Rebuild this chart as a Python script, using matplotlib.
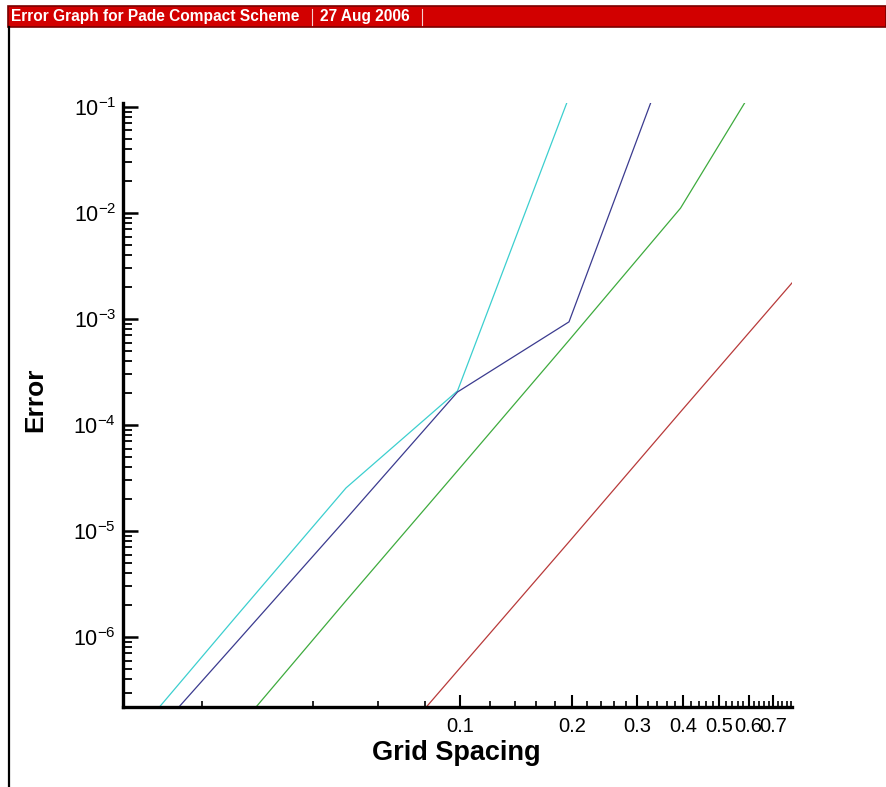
import numpy as np
import matplotlib
matplotlib.use("Agg")
import matplotlib.pyplot as plt
from matplotlib.patches import Rectangle
from matplotlib.lines import Line2D
from matplotlib.ticker import FixedLocator, NullFormatter

plt.rcParams["font.family"] = ["Liberation Sans", "DejaVu Sans"]
plt.rcParams["mathtext.fontset"] = "custom"
plt.rcParams["mathtext.rm"] = "Liberation Sans"
plt.rcParams["mathtext.it"] = "Liberation Sans:italic"
plt.rcParams["mathtext.bf"] = "Liberation Sans:bold"

# Grid resolutions and the corresponding grid spacing h = 2*pi/N
n_points = [8, 16, 32, 64, 128, 256, 512]

# Error norms for each run (None where the run is not plotted)
err_cyan = [None, None, 0.124, 2.1e-4, 2.55e-5, 1.5e-6, 8.6e-8]
err_blue = [None, 0.62, 9.4e-4, 2.05e-4, 1.3e-5, 8.5e-7, 5.6e-8]
err_green = [0.59, 1.11e-2, 6.3e-4, 3.7e-5, 2.2e-6, 1.26e-7, 7.4e-9]
err_red = [2.19e-3, 1.33e-4, 7.9e-6, 4.8e-7, 2.9e-8, None, None]

x_major = [0.1, 0.2, 0.3, 0.4, 0.5, 0.6, 0.7]
x_major_labels = ["0.1", "0.2", "0.3", "0.4", "0.5", "0.6", "0.7"]
y_major = [1e-6, 1e-5, 1e-4, 1e-3, 1e-2, 1e-1]
y_major_labels = [r"$\mathregular{10^{-6}}$", r"$\mathregular{10^{-5}}$",
                  r"$\mathregular{10^{-4}}$", r"$\mathregular{10^{-3}}$",
                  r"$\mathregular{10^{-2}}$", r"$\mathregular{10^{-1}}$"]

title_text = "Error Graph for Pade Compact Scheme"
date_text = "27 Aug 2006"

W, H = 886, 787
fig = plt.figure(figsize=(W / 100, H / 100), dpi=100)
fig.patch.set_facecolor("white")

def fx(px):
    return px / W

def fy(py):
    return 1 - py / H

# Header bar
bar_top, bar_bot, bar_left = 6, 27, 8
fig.patches.append(Rectangle((fx(bar_left), fy(bar_bot)), 1 - fx(bar_left),
                             fy(bar_top) - fy(bar_bot), transform=fig.transFigure,
                             facecolor="#d20000", edgecolor="#7a0000", linewidth=1.2))
fig.text(fx(11), fy(16.5), title_text, color="white", fontsize=11.2, fontweight="bold",
         ha="left", va="center")
fig.text(fx(320), fy(16.5), date_text, color="white", fontsize=11.2, fontweight="bold",
         ha="left", va="center")
for sx in (312, 422):
    fig.lines.append(Line2D([fx(sx), fx(sx)], [fy(9), fy(25)], transform=fig.transFigure,
                            color="#f4d0d0", linewidth=0.8))

# Frame line on the left side
fig.lines.append(Line2D([fx(8.5), fx(8.5)], [fy(27), 0], transform=fig.transFigure,
                        color="black", linewidth=1.6))

# Plot area
ax_l, ax_r, ax_t, ax_b = 123, 792, 103, 707
ax = fig.add_axes([fx(ax_l), fy(ax_b), fx(ax_r) - fx(ax_l), fy(ax_t) - fy(ax_b)])
ax.set_xscale("log")
ax.set_yscale("log")

h = [2 * np.pi / n for n in n_points]
series = [(err_cyan, "#3ccfcf"), (err_blue, "#3b3b8f"),
          (err_green, "#3eab3e"), (err_red, "#b83a3a")]
for errs, col in series:
    xs = [hv for hv, e in zip(h, errs) if e is not None]
    ys = [e for e in errs if e is not None]
    ax.plot(xs, ys, color=col, linewidth=0.9)

ax.set_xlim(2 * np.pi / 512, 2 * np.pi / 8)
ax.set_ylim(2.19e-7, 0.109)

for side in ("top", "right"):
    ax.spines[side].set_visible(False)
for side in ("left", "bottom"):
    ax.spines[side].set_linewidth(2.4)
    ax.spines[side].set_color("black")

# x ticks
x_minor = [round(0.02 * k, 2) for k in range(1, 40)]
x_minor = [v for v in x_minor if round(v * 10, 6) != round(v * 10)]
ax.xaxis.set_major_locator(FixedLocator(x_major))
ax.xaxis.set_minor_locator(FixedLocator(x_minor))
ax.set_xticklabels(x_major_labels)
ax.xaxis.set_minor_formatter(NullFormatter())

# y ticks
y_minor = [m * 10.0 ** e for e in range(-7, 0) for m in range(2, 10)]
ax.yaxis.set_major_locator(FixedLocator(y_major))
ax.yaxis.set_minor_locator(FixedLocator(y_minor))
ax.set_yticklabels(y_major_labels)
ax.yaxis.set_minor_formatter(NullFormatter())

ax.tick_params(axis="both", which="both", direction="in", color="black")
ax.tick_params(axis="x", which="major", length=9, width=1.5, labelsize=14.5, pad=7)
ax.tick_params(axis="x", which="minor", length=4.5, width=1.2)
ax.tick_params(axis="y", which="major", length=11, width=1.8, labelsize=15.5, pad=5)
ax.tick_params(axis="y", which="minor", length=6.5, width=1.3)

fig.text(fx(456), fy(760), "Grid Spacing", fontsize=19.5, fontweight="bold",
         ha="center", va="baseline")
fig.text(fx(35), fy(400), "Error", fontsize=19, fontweight="bold",
         rotation=90, ha="center", va="center")

fig.savefig("out.png", dpi=100)
